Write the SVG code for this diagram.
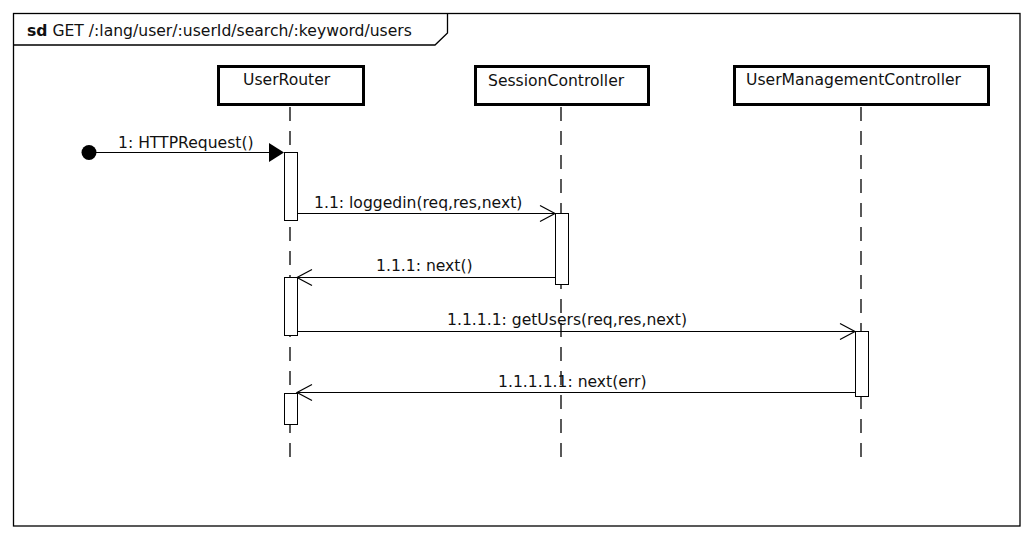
<svg xmlns="http://www.w3.org/2000/svg" width="1033" height="540" viewBox="0 0 1033 540">
  <style>
    text { font-family: "DejaVu Sans", "Liberation Sans", sans-serif; font-size: 15.6px; fill: #111; }
    .frame { fill: #fff; stroke: #000; stroke-width: 1.3; }
    .head { fill: #fff; stroke: #000; stroke-width: 3; }
    .life { stroke: #000; stroke-width: 1.3; stroke-dasharray: 14 10; fill: none; }
    .act { fill: #fff; stroke: #000; stroke-width: 1; }
    .msg { stroke: #000; stroke-width: 1; fill: none; }
    .open { stroke: #000; stroke-width: 1.2; fill: none; }
  </style>

  <!-- interaction frame -->
  <rect class="frame" x="13.5" y="13.5" width="1006.5" height="512.5"/>
  <path d="M13.5,45 H435 L447.5,33 V13.5" fill="none" stroke="#000" stroke-width="1.3"/>
  <text x="27" y="36"><tspan font-weight="bold">sd</tspan> GET /:lang/user/:userId/search/:keyword/users</text>

  <!-- lifeline: UserRouter -->
  <g id="userRouter">
    <rect class="head" x="218.5" y="66.5" width="145" height="38"/>
    <text x="243" y="85">UserRouter</text>
    <line class="life" x1="290" y1="107" x2="290" y2="458"/>
  </g>

  <!-- lifeline: SessionController -->
  <g id="sessionController">
    <rect class="head" x="475.5" y="66.5" width="173" height="38"/>
    <text x="488" y="86">SessionController</text>
    <line class="life" x1="561" y1="107" x2="561" y2="458"/>
  </g>

  <!-- lifeline: UserManagementController -->
  <g id="userManagementController">
    <rect class="head" x="734.5" y="66.5" width="254" height="38"/>
    <text x="746" y="85">UserManagementController</text>
    <line class="life" x1="861" y1="107" x2="861" y2="458"/>
  </g>

  <!-- execution specifications -->
  <g id="activations">
    <rect class="act" x="284.5" y="152.5" width="13" height="68"/>
    <rect class="act" x="555.5" y="213.5" width="13" height="71"/>
    <rect class="act" x="284.5" y="277.5" width="13" height="58"/>
    <rect class="act" x="855.5" y="331.5" width="13" height="65"/>
    <rect class="act" x="284.5" y="393.5" width="13" height="31"/>
  </g>

  <!-- messages -->
  <g id="connectors">
    <!-- 1: found message -->
    <circle cx="89" cy="152.5" r="7.5" fill="#000"/>
    <line class="msg" x1="89" y1="152.5" x2="270" y2="152.5"/>
    <polygon points="284,152.5 269,143 269,162" fill="#000"/>
    <text x="118" y="148">1: HTTPRequest()</text>

    <!-- 1.1 -->
    <line class="msg" x1="297" y1="213.5" x2="555" y2="213.5"/>
    <polyline class="open" points="540,205.5 555,213.5 540,221.5"/>
    <text x="314" y="208">1.1: loggedin(req,res,next)</text>

    <!-- 1.1.1 -->
    <line class="msg" x1="555" y1="277.5" x2="297" y2="277.5"/>
    <polyline class="open" points="312,269.5 297,277.5 312,285.5"/>
    <text x="376" y="271">1.1.1: next()</text>

    <!-- 1.1.1.1 -->
    <line class="msg" x1="297" y1="331.5" x2="855" y2="331.5"/>
    <polyline class="open" points="840,323.5 855,331.5 840,339.5"/>
    <text x="447" y="325">1.1.1.1: getUsers(req,res,next)</text>

    <!-- 1.1.1.1.1 -->
    <line class="msg" x1="855" y1="392.5" x2="297" y2="392.5"/>
    <polyline class="open" points="312,384.5 297,392.5 312,400.5"/>
    <text x="498" y="387">1.1.1.1.1: next(err)</text>
  </g>
</svg>
